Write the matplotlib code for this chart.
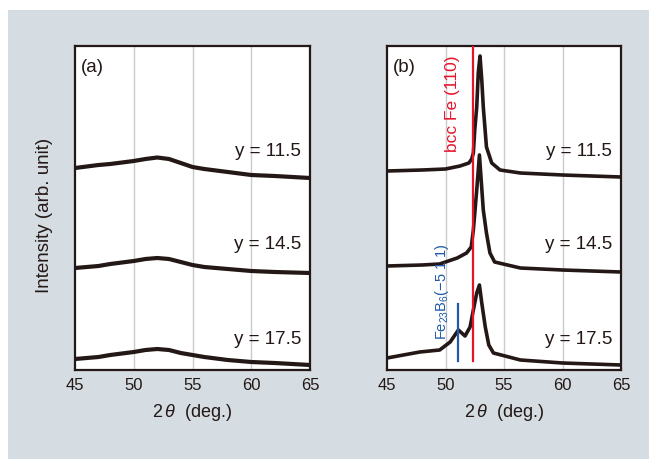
import matplotlib
matplotlib.use("Agg")
import matplotlib.pyplot as plt
from matplotlib.patches import Rectangle

plt.rcParams['font.family'] = ['Liberation Sans', 'DejaVu Sans']
plt.rcParams['mathtext.fontset'] = 'custom'
plt.rcParams['mathtext.rm'] = 'Liberation Sans'
plt.rcParams['mathtext.it'] = 'Liberation Sans:italic'

# ---------------- data ----------------
xticks = [45, 50, 55, 60, 65]
labels = ["y = 11.5", "y = 14.5", "y = 17.5"]

# panel (a)
a_x = [45, 47, 48, 50, 51, 52, 53, 54, 55, 56, 58, 60, 62, 65]
a_115 = [202, 205, 206, 209, 211, 212.5, 211, 207, 203, 201, 198, 195, 194, 192]
a_145 = [102, 104, 106, 109, 111, 112, 111, 108, 105, 103, 101, 99, 98, 97]
a_175 = [11, 13, 15, 18, 20, 21, 20, 17, 15, 13, 10, 8, 7, 5]

# panel (b)
b_x_115 = [45, 48, 50, 51.24, 52, 52.24, 52.38, 52.5, 52.67, 52.8, 52.95, 53.1,
           53.23, 53.5, 53.95, 54.66, 56.4, 60, 65]
b_115 = [199, 200, 201, 204, 207, 211, 217, 240, 263, 297, 314, 290,
         263, 223, 207, 200, 197, 195, 193]
b_x_145 = [45, 48, 49.5, 51, 51.8, 52.2, 52.38, 52.67, 52.9, 53.23, 53.5, 53.8,
           54.2, 56.4, 60, 65]
b_145 = [104, 105, 106, 112, 117, 123, 140, 180, 215, 160, 137, 117,
         108, 102, 100, 98]
b_x_175 = [45, 47.8, 49.5, 50.4, 51.1, 51.67, 52.1, 52.38, 52.67, 52.9, 53.1,
           53.4, 53.7, 54.1, 56.4, 60, 65]
b_175 = [12, 18, 20, 28, 40, 34, 43, 60, 77, 85, 67,
         43, 25, 17, 10, 7, 5]

bcc_x = 52.32
bcc_y = (9, 324)
feb_x = 51.1
feb_y = (9, 66)

label_y = [218, 125, 30]

# ---------------- figure ----------------
W, H = 649, 459
fig = plt.figure(figsize=(W / 100, H / 100), dpi=100, facecolor='white')
bg = '#d5dde3'
fig.patches.append(Rectangle((8 / W, 0), 1 - 8 / W, 1 - 10 / H,
                             transform=fig.transFigure, facecolor=bg,
                             edgecolor='none', zorder=-10))

dark = '#231815'
curve_c = '#231815'
grid_c = '#c9cbce'

ax_a = fig.add_axes([75 / W, 1 - 370 / H, 235 / W, 324 / H])
ax_b = fig.add_axes([387 / W, 1 - 370 / H, 234 / W, 324 / H])

for ax, tag in [(ax_a, '(a)'), (ax_b, '(b)')]:
    ax.set_xlim(45, 65)
    ax.set_ylim(0, 324)
    ax.set_xticks(xticks)
    ax.set_yticks([])
    ax.tick_params(axis='x', length=0, pad=6, labelsize=12, colors=dark)
    for v in xticks[1:-1]:
        ax.axvline(v, color=grid_c, lw=1.0, zorder=0)
    for s in ax.spines.values():
        s.set_color(dark)
        s.set_linewidth(1.6)
    ax.set_xlabel('2$\\,\\theta$  (deg.)', fontsize=13, color=dark, labelpad=6)
    ax.text(0.072, 0.935, tag, transform=ax.transAxes, fontsize=13.5,
            color=dark, ha='center', va='center')
    for lab, ly in zip(labels, label_y):
        ax.text(64.25, ly, lab, fontsize=13.5, color=dark, ha='right', va='center')

lw = 3.0
ax_a.plot(a_x, a_115, color=curve_c, lw=lw, solid_joinstyle='round')
ax_a.plot(a_x, a_145, color=curve_c, lw=lw, solid_joinstyle='round')
ax_a.plot(a_x, a_175, color=curve_c, lw=lw, solid_joinstyle='round')

ax_b.plot(b_x_115, b_115, color=curve_c, lw=2.6, solid_joinstyle='round')
ax_b.plot(b_x_145, b_145, color=curve_c, lw=2.6, solid_joinstyle='round')
ax_b.plot(b_x_175, b_175, color=curve_c, lw=2.6, solid_joinstyle='round')

ax_b.plot([bcc_x, bcc_x], bcc_y, color='#e5142b', lw=1.6, zorder=3)
ax_b.plot([feb_x, feb_x], feb_y, color='#1e5aa8', lw=1.6, zorder=3)

ax_b.text(51.25, 266, 'bcc Fe (110)', rotation=90, fontsize=12.5,
          color='#e5142b', ha='right', va='center')
ax_b.text(50.45, 30, 'Fe$_{23}$B$_6$(\u22125 1 1)', rotation=90,
          fontsize=10.5, color='#1e5aa8', ha='right', va='bottom')

fig.text(45 / W, 1 - 215 / H, 'Intensity (arb. unit)', rotation=90,
         fontsize=13.5, color=dark, ha='center', va='center')

fig.savefig('out.png', dpi=100, facecolor='white')
